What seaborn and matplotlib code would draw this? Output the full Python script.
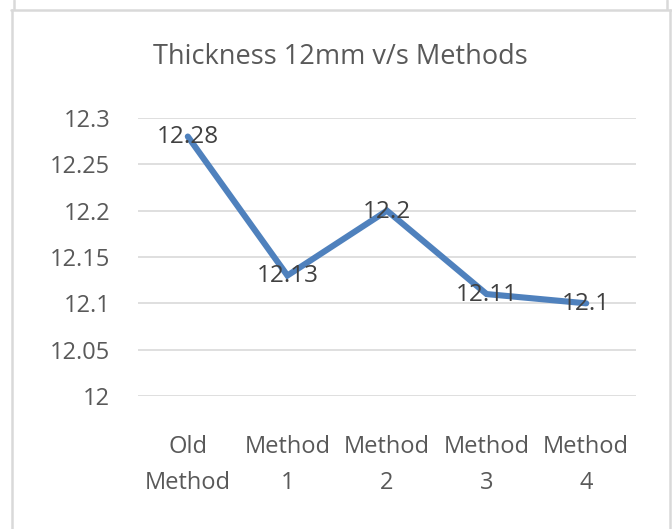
import matplotlib
matplotlib.use("Agg")
import matplotlib.pyplot as plt
from matplotlib.lines import Line2D
import seaborn as sns
import pandas as pd

categories = ["Old\nMethod", "Method\n1", "Method\n2", "Method\n3", "Method\n4"]
thickness = [12.28, 12.13, 12.2, 12.11, 12.1]
value_labels = ["12.28", "12.13", "12.2", "12.11", "12.1"]
y_ticks = [12, 12.05, 12.1, 12.15, 12.2, 12.25, 12.3]
y_tick_labels = ["12", "12.05", "12.1", "12.15", "12.2", "12.25", "12.3"]
title = "Thickness 12mm v/s Methods"

sns.set_theme(style="white")
plt.rcParams['font.family'] = ['Open Sans', 'DejaVu Sans']

W, H = 672, 529
fig = plt.figure(figsize=(W / 100, H / 100), dpi=100)
fig.patch.set_facecolor("white")
ax = fig.add_axes([138 / W, 1 - 396 / H, (636 - 138) / W, (396 - 118) / H])

df = pd.DataFrame({"method": categories, "thickness": thickness})
sns.lineplot(data=df, x="method", y="thickness", ax=ax, color="#4F81BD",
             linewidth=4.4, sort=False, solid_joinstyle="miter")

for i, (v, lab) in enumerate(zip(thickness, value_labels)):
    ax.text(i, v - 0.001, lab, ha="center", va="center", fontsize=17.5,
            color="#404040", zorder=5)

ax.set_xlim(-0.5, 4.5)
ax.set_ylim(12, 12.3)
ax.set_yticks(y_ticks)
ax.set_yticklabels(y_tick_labels)
ax.yaxis.grid(True, color="#D9D9D9", linewidth=1.2)
ax.xaxis.grid(False)
for s in ax.spines.values():
    s.set_visible(False)
ax.tick_params(axis="y", length=0, pad=20, labelsize=17, labelcolor="#595959")
ax.tick_params(axis="x", length=0, pad=28, labelsize=17, labelcolor="#595959")
for t in ax.get_xticklabels():
    t.set_linespacing(1.7)
ax.set_xlabel("")
ax.set_ylabel("")

fig.text(340 / W, 1 - 57 / H, title, ha="center", va="center", fontsize=19.5,
         color="#595959")

bc = "#D9D9D9"
lw = 1.8
def fl(xs, ys):
    fig.add_artist(Line2D([x / W for x in xs], [1 - y / H for y in ys],
                          color=bc, linewidth=lw, transform=fig.transFigure))
fl([11, 671], [10, 10])
fl([12, 12], [10, 529])
fl([669.5, 669.5], [10, 529])
fl([14, 14], [0, 9])
fl([667, 667], [0, 9])

fig.savefig("out.png", dpi=100, facecolor="white")
